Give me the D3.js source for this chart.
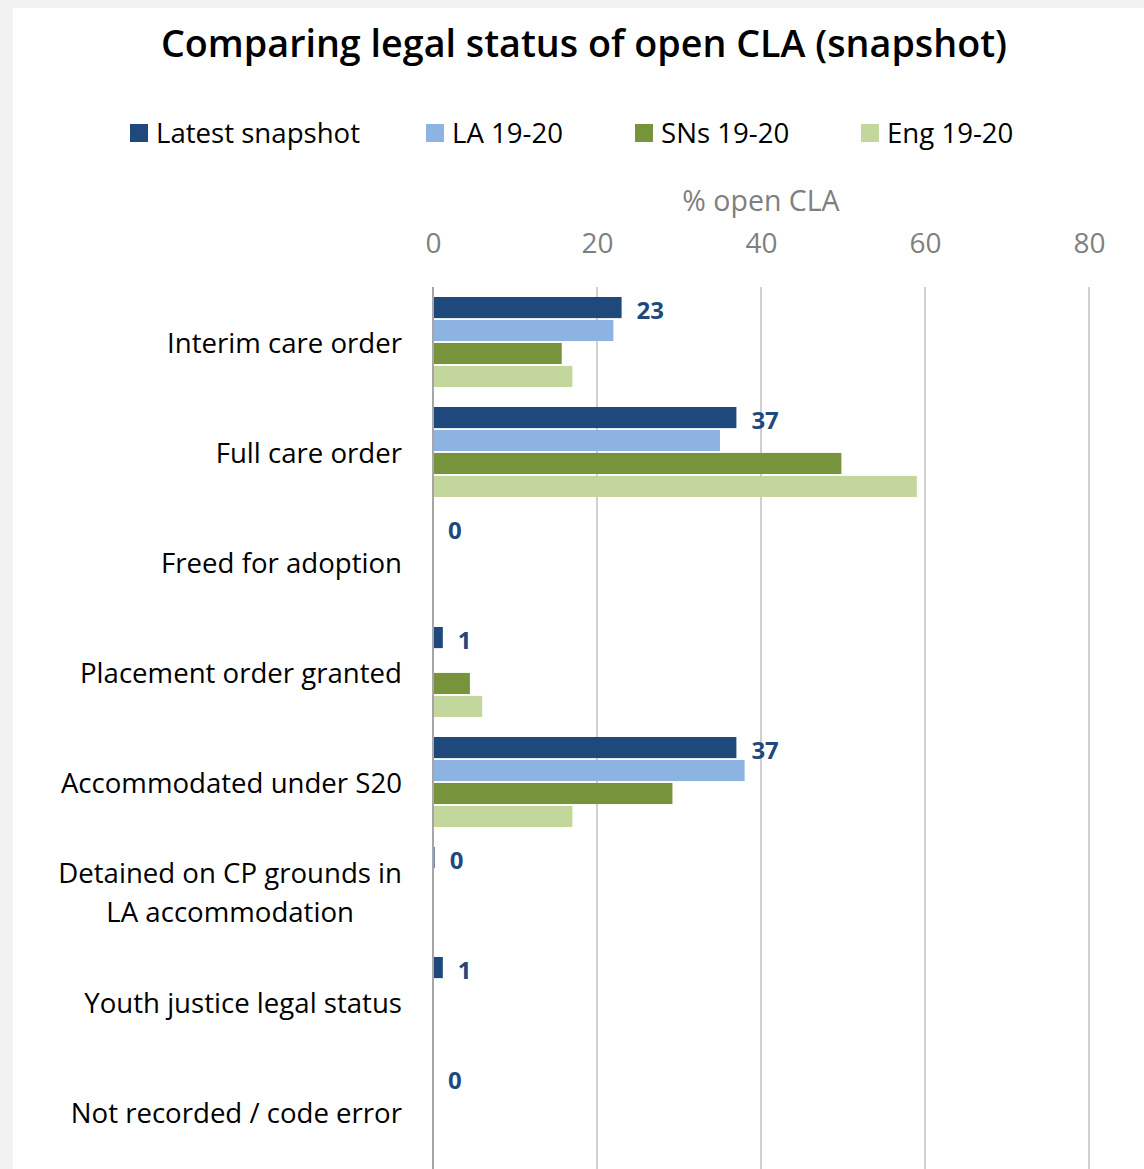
<!DOCTYPE html>
<html>
<head>
<meta charset="utf-8">
<script src="https://cdn.jsdelivr.net/npm/d3@7"></script>
<style>
html,body{margin:0;padding:0;background:#f2f2f2;}
svg{display:block;font-family:"Open Sans","Noto Sans",sans-serif;}
</style>
</head>
<body>
<svg id="chart" width="1144" height="1169"></svg>
<script>
const categories = [
  ["Interim care order"],
  ["Full care order"],
  ["Freed for adoption"],
  ["Placement order granted"],
  ["Accommodated under S20"],
  ["Detained on CP grounds in", "LA accommodation"],
  ["Youth justice legal status"],
  ["Not recorded / code error"]
];
const seriesNames = ["Latest snapshot", "LA 19-20", "SNs 19-20", "Eng 19-20"];
const latestSnapshot = [23, 37, 0, 1.2, 37, 0.2, 1.2, 0];
const la1920 = [22, 35, 0, 0, 38, 0, 0, 0];
const sns1920 = [15.7, 49.8, 0, 4.5, 29.2, 0, 0, 0];
const eng1920 = [17, 59, 0, 6, 17, 0, 0, 0];
const latestLabels = ["23", "37", "0", "1", "37", "0", "1", "0"];
const xTicks = [0, 20, 40, 60, 80];
const colors = ["#1f497d", "#8db3e2", "#77933c", "#c3d69b"];

const allSeries = [latestSnapshot, la1920, sns1920, eng1920];
const svg = d3.select("#chart");
svg.append("rect").attr("x",13).attr("y",8).attr("width",1131).attr("height",1161).attr("fill","#fff");

const x = d3.scaleLinear().domain([0, 80]).range([433, 1089]);
const y = d3.scaleBand().domain(d3.range(categories.length)).range([287, 1167]).paddingInner(0).paddingOuter(0);
const y1 = d3.scaleBand().domain(d3.range(4)).range([10, y.bandwidth() - 10]).paddingInner(0.08).paddingOuter(0);

// title
svg.append("text").attr("x", 584).attr("y", 57).attr("text-anchor","middle")
  .attr("font-size", 37.7).attr("font-weight", 600).attr("fill","#000")
  .text("Comparing legal status of open CLA (snapshot)");

// legend
const legendX = [130, 426, 635, 861];
seriesNames.forEach((n,i)=>{
  const g = svg.append("g");
  g.append("rect").attr("x", legendX[i]).attr("y", 124).attr("width", 18).attr("height", 18).attr("fill", colors[i]);
  g.append("text").attr("x", legendX[i]+26).attr("y", 143).attr("font-size", 27.6).attr("fill","#000").text(n);
});

// axis title
svg.append("text").attr("x", 761).attr("y", 211).attr("text-anchor","middle")
  .attr("font-size", 28.5).attr("fill","#7f7f7f").text("% open CLA");

// top axis
const axis = d3.axisTop(x).tickValues(xTicks).tickSize(0).tickPadding(0);
const ag = svg.append("g").attr("transform","translate(0,253)").call(axis);
ag.select(".domain").remove();
ag.selectAll("text").attr("font-size", 28).attr("fill","#7f7f7f").attr("font-family","'Open Sans','Noto Sans',sans-serif");

// grid
svg.append("g").selectAll("line").data(xTicks).join("line")
  .attr("x1", d=>x(d)).attr("x2", d=>x(d)).attr("y1", 287).attr("y2", 1169)
  .attr("stroke", d=> d===0 ? "#a6a6a6" : "#d0d0d0").attr("stroke-width", 2);

// bars
const rows = categories.map((c,ci)=>({ci, vals: allSeries.map(s=>s[ci])}));
const groups = svg.append("g").selectAll("g").data(rows).join("g")
  .attr("transform", d=>`translate(0,${y(d.ci)})`);
groups.selectAll("rect").data(d=>d.vals.map((v,si)=>({v,si}))).join("rect")
  .attr("x", x(0)+1).attr("y", d=>y1(d.si)).attr("height", y1.bandwidth())
  .attr("width", d=> Math.max(0, x(d.v)-x(0)-1)).attr("fill", d=>colors[d.si]);

// value labels
groups.append("text")
  .attr("x", d=> x(latestSnapshot[d.ci]) + 15)
  .attr("y", y1(0) + y1.bandwidth()/2 + 2.5)
  .attr("dy", "0.38em")
  .attr("font-size", 24).attr("font-weight", 700).attr("fill", "#1f497d")
  .text(d=>latestLabels[d.ci]);

// category labels
const cl = svg.append("g").selectAll("text").data(categories).join("text")
  .attr("font-size", 27.6).attr("fill","#000")
  .attr("transform",(d,i)=>`translate(402,${y(i)+y.bandwidth()/2 + 1})`);
cl.each(function(d){
  const t = d3.select(this);
  const n = d.length;
  const spans = d.map((line,k)=> t.append("tspan").attr("y", (k-(n-1)/2)*39).attr("dy","0.35em").text(line));
  const widths = spans.map(s=>s.node().getComputedTextLength());
  const maxW = d3.max(widths);
  spans.forEach((s,k)=>{
    s.attr("x", -maxW/2 - widths[k]/2);
  });
});
</script>
</body>
</html>
